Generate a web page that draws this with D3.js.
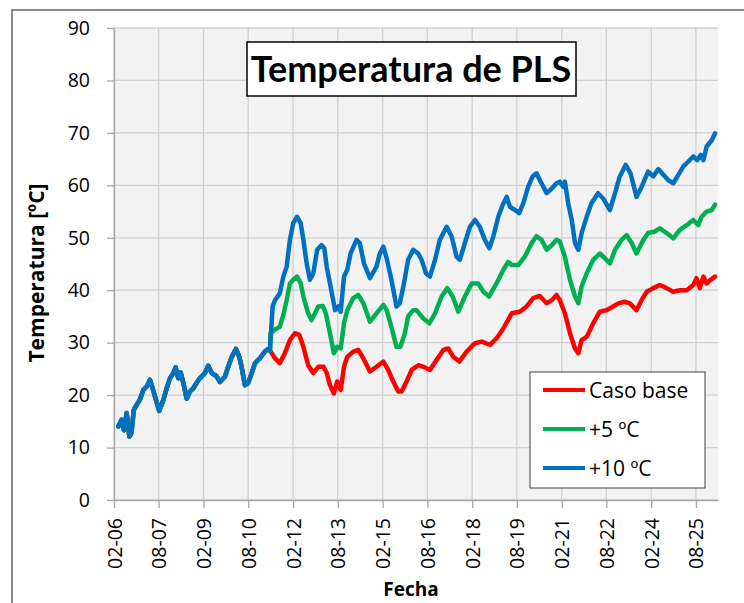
<!DOCTYPE html>
<html>
<head>
<meta charset="utf-8">
<script src="https://d3js.org/d3.v7.min.js"></script>
<style>
  body { margin: 0; background: #fff; }
  text { font-family: "Open Sans", sans-serif; }
</style>
</head>
<body>
<svg id="chart" width="744" height="603"></svg>
<script>
// common history before the scenarios split (decimal year, ºC)
const historico = [
  [2006.23,14.0],[2006.34,15.3],[2006.42,13.3],[2006.51,16.6],[2006.60,12.1],[2006.67,12.8],
  [2006.75,17.2],[2006.84,18.1],[2006.95,19.1],[2007.07,21.0],[2007.18,21.6],[2007.29,22.9],
  [2007.38,21.3],[2007.46,19.7],[2007.60,17.0],[2007.74,19.1],[2007.85,21.3],[2007.96,23.2],
  [2008.07,24.2],[2008.15,25.3],[2008.24,23.2],[2008.32,24.3],[2008.41,22.3],[2008.52,19.3],
  [2008.63,20.7],[2008.74,21.3],[2008.85,22.3],[2008.96,23.2],[2009.13,24.2],[2009.24,25.6],
  [2009.36,24.2],[2009.52,23.6],[2009.63,22.5],[2009.80,23.5],[2009.91,25.4],[2010.03,27.3],
  [2010.17,28.8],[2010.28,27.3],[2010.36,25.4],[2010.47,21.9],[2010.58,22.3],[2010.70,24.2],
  [2010.81,26.1],[2010.97,27.0],[2011.14,28.3],[2011.25,28.8],[2011.31,28.5]
];

const casoBase = [
  [2011.48,27.0],[2011.64,26.1],[2011.81,28.0],[2011.98,30.5],[2012.15,31.8],[2012.29,31.5],
  [2012.43,29.2],[2012.59,25.7],[2012.76,24.2],[2012.93,25.4],[2013.10,25.4],[2013.21,24.2],
  [2013.32,21.9],[2013.45,20.3],[2013.56,22.6],[2013.68,21.0],[2013.79,25.4],[2013.90,27.3],
  [2014.10,28.3],[2014.27,28.6],[2014.44,27.0],[2014.66,24.5],[2014.88,25.4],[2015.11,26.4],
  [2015.27,24.8],[2015.44,22.6],[2015.61,20.7],[2015.72,20.7],[2015.89,22.6],[2016.06,24.8],
  [2016.28,25.7],[2016.45,25.4],[2016.67,24.8],[2016.89,26.7],[2017.12,28.6],[2017.28,28.9],
  [2017.45,27.3],[2017.65,26.4],[2017.90,28.3],[2018.18,29.9],[2018.40,30.2],[2018.68,29.6],
  [2018.90,30.8],[2019.13,32.7],[2019.41,35.6],[2019.68,35.9],[2019.91,36.9],[2020.13,38.5],
  [2020.35,38.9],[2020.58,37.5],[2020.75,38.1],[2020.91,39.1],[2021.02,38.1],[2021.19,35.6],
  [2021.36,31.8],[2021.53,28.9],[2021.64,28.0],[2021.75,30.5],[2021.92,31.1],[2022.14,33.7],
  [2022.36,35.9],[2022.59,36.2],[2022.81,36.9],[2022.98,37.5],[2023.20,37.8],[2023.37,37.5],
  [2023.59,36.2],[2023.76,38.1],[2023.93,39.7],[2024.15,40.4],[2024.37,41.0],[2024.60,40.4],
  [2024.82,39.7],[2025.04,40.0],[2025.27,40.0],[2025.49,41.0],[2025.60,42.3],[2025.71,40.4],
  [2025.83,42.6],[2025.94,41.3],[2026.05,41.9],[2026.22,42.6]
];

const mas5 = [
  [2011.33,31.8],[2011.53,32.7],[2011.64,33.0],[2011.76,35.3],[2011.87,38.1],[2011.98,41.3],
  [2012.09,42.0],[2012.22,42.6],[2012.34,41.3],[2012.43,38.8],[2012.59,35.6],[2012.70,34.3],
  [2012.82,35.6],[2012.93,36.9],[2013.08,37.0],[2013.18,35.6],[2013.32,31.8],[2013.45,28.0],
  [2013.56,29.2],[2013.68,28.9],[2013.79,33.7],[2013.90,36.2],[2014.10,38.5],[2014.27,39.1],
  [2014.44,37.5],[2014.66,34.0],[2014.88,35.6],[2015.11,37.2],[2015.22,36.2],[2015.38,33.0],
  [2015.55,29.2],[2015.68,29.2],[2015.83,31.8],[2015.94,35.0],[2016.11,36.2],[2016.22,36.2],
  [2016.45,34.6],[2016.65,33.7],[2016.84,35.6],[2017.06,38.8],[2017.25,40.4],[2017.43,38.8],
  [2017.62,35.9],[2017.84,38.8],[2018.07,41.3],[2018.29,41.3],[2018.46,39.7],[2018.65,38.8],
  [2018.90,41.3],[2019.13,43.9],[2019.29,45.4],[2019.41,44.8],[2019.63,44.8],[2019.85,46.4],
  [2020.08,49.0],[2020.24,50.3],[2020.41,49.6],[2020.58,47.7],[2020.75,48.6],[2020.91,49.6],
  [2021.02,49.3],[2021.19,46.4],[2021.36,42.0],[2021.53,38.8],[2021.64,37.5],[2021.75,40.7],
  [2021.92,43.2],[2022.14,45.8],[2022.36,47.0],[2022.53,46.1],[2022.70,45.1],[2022.87,47.7],
  [2023.09,49.6],[2023.26,50.5],[2023.43,49.0],[2023.59,47.0],[2023.82,49.6],[2023.98,50.9],
  [2024.21,51.2],[2024.37,51.8],[2024.60,50.9],[2024.82,49.9],[2025.04,51.5],[2025.27,52.4],
  [2025.49,53.4],[2025.66,52.4],[2025.77,54.0],[2025.94,55.0],[2026.11,55.3],[2026.22,56.3]
];

const mas10 = [
  [2011.40,36.9],[2011.48,38.1],[2011.64,39.4],[2011.76,42.6],[2011.87,44.5],[2011.98,49.6],
  [2012.09,52.8],[2012.22,54.0],[2012.34,52.8],[2012.43,49.6],[2012.54,45.1],[2012.65,42.0],
  [2012.76,43.2],[2012.89,47.7],[2013.04,48.6],[2013.13,48.0],[2013.21,44.5],[2013.34,40.7],
  [2013.49,36.2],[2013.60,36.9],[2013.68,35.9],[2013.79,42.6],[2013.90,43.9],[2014.01,47.0],
  [2014.21,49.6],[2014.32,49.0],[2014.46,45.1],[2014.66,42.3],[2014.88,44.5],[2014.99,47.0],
  [2015.11,48.3],[2015.22,46.1],[2015.38,42.0],[2015.55,36.9],[2015.66,37.5],[2015.78,40.7],
  [2015.94,45.8],[2016.11,47.7],[2016.28,47.0],[2016.39,45.8],[2016.54,43.2],[2016.67,42.6],
  [2016.84,45.8],[2017.00,49.6],[2017.23,52.1],[2017.40,50.2],[2017.56,46.4],[2017.67,45.8],
  [2017.84,49.0],[2018.01,52.1],[2018.18,53.4],[2018.34,52.1],[2018.51,49.6],[2018.66,48.0],
  [2018.79,50.2],[2018.96,54.0],[2019.11,56.3],[2019.24,57.8],[2019.35,55.9],[2019.52,55.3],
  [2019.66,54.7],[2019.80,56.6],[2019.96,59.7],[2020.11,61.7],[2020.24,62.3],[2020.38,60.7],
  [2020.58,58.5],[2020.75,59.4],[2020.91,60.4],[2021.02,60.7],[2021.14,59.7],[2021.19,60.7],
  [2021.30,56.6],[2021.42,53.4],[2021.53,49.0],[2021.64,47.7],[2021.75,50.9],[2021.92,54.0],
  [2022.08,56.6],[2022.30,58.5],[2022.47,57.5],[2022.70,55.3],[2022.87,58.5],[2023.03,61.7],
  [2023.23,63.9],[2023.39,62.3],[2023.59,57.8],[2023.76,59.7],[2023.98,62.6],[2024.15,61.7],
  [2024.32,63.1],[2024.49,62.0],[2024.65,61.0],[2024.82,60.4],[2024.99,62.0],[2025.16,63.6],
  [2025.32,64.5],[2025.49,65.5],[2025.62,64.8],[2025.74,65.8],[2025.83,64.8],[2025.94,67.4],
  [2026.11,68.6],[2026.22,69.9]
];

const seriesNames = ["Caso base", "+5 ºC", "+10 ºC"];
const seriesColors = ["#ff0000", "#00b050", "#0070c0"];
const xTickLabels = ["02-06","08-07","02-09","08-10","02-12","08-13","02-15",
                     "08-16","02-18","08-19","02-21","08-22","02-24","08-25"];
const yTicks = [0,10,20,30,40,50,60,70,80,90];

// decimal year -> Date
function fromYear(y) {
  const yr = Math.floor(y);
  const a = new Date(yr, 0, 1), b = new Date(yr + 1, 0, 1);
  return new Date(+a + (y - yr) * (b - a));
}

const margin = { top: 28, right: 26, bottom: 103, left: 114 };
const width = 744, height = 603;
const innerWidth = width - margin.left - margin.right;
const innerHeight = height - margin.top - margin.bottom;

const svg = d3.select("#chart");

// outer chart frame (runs off the right and bottom edges like the source)
svg.append("path")
  .attr("d", `M12,${height} V10 H${width}`)
  .attr("fill", "none")
  .attr("stroke", "#8c8c8c")
  .attr("stroke-width", 2);

const g = svg.append("g")
  .attr("transform", `translate(${margin.left},${margin.top})`);

const parseTick = d3.timeParse("%m-%y");
const tickDates = xTickLabels.map(parseTick);

const xScale = d3.scaleTime()
  .domain([fromYear(2006.085), fromYear(2026.32)])
  .range([0, innerWidth]);
const yScale = d3.scaleLinear()
  .domain([0, 90])
  .range([innerHeight, 0]);

// plot background
g.append("rect")
  .attr("width", innerWidth).attr("height", innerHeight)
  .attr("fill", "#f2f2f2");

// gridlines
g.selectAll(".hgrid").data(yTicks).enter().append("line")
  .attr("x1", 0).attr("x2", innerWidth)
  .attr("y1", d => yScale(d)).attr("y2", d => yScale(d))
  .attr("stroke", "#d0d0d0").attr("stroke-width", 1.3);
g.selectAll(".vgrid").data(tickDates).enter().append("line")
  .attr("x1", d => xScale(d)).attr("x2", d => xScale(d))
  .attr("y1", 0).attr("y2", innerHeight)
  .attr("stroke", "#d0d0d0").attr("stroke-width", 1.3);

// axes
const xAxis = d3.axisBottom(xScale)
  .tickValues(tickDates)
  .tickFormat((d, i) => xTickLabels[i])
  .tickSize(8)
  .tickSizeOuter(0);
const gx = g.append("g")
  .attr("transform", `translate(0,${innerHeight})`)
  .call(xAxis);
gx.selectAll("text")
  .attr("transform", "rotate(-90)")
  .attr("x", -18)
  .attr("y", 0)
  .attr("dy", "0.36em")
  .style("text-anchor", "end")
  .style("font-family", "'Open Sans', sans-serif")
  .style("font-size", "19.5px")
  .attr("fill", "#000");

const yAxis = d3.axisLeft(yScale)
  .tickValues(yTicks)
  .tickSize(7)
  .tickPadding(17)
  .tickSizeOuter(0);
const gy = g.append("g").call(yAxis);
gy.selectAll("text")
  .style("font-family", "'Open Sans', sans-serif")
  .style("font-size", "19.5px")
  .attr("fill", "#000");

g.selectAll(".domain, .tick line")
  .attr("stroke", "#a6a6a6")
  .attr("stroke-width", 1.3);

// lines
const line = d3.line()
  .x(d => xScale(fromYear(d[0])))
  .y(d => yScale(d[1]));

const allSeries = [casoBase, mas5, mas10];
allSeries.forEach((s, i) => {
  g.append("path")
    .datum(historico.concat(s))
    .attr("fill", "none")
    .attr("stroke", seriesColors[i])
    .attr("stroke-width", 4.5)
    .attr("stroke-linejoin", "round")
    .attr("stroke-linecap", "round")
    .attr("d", line);
});

// title box
svg.append("rect")
  .attr("x", 247).attr("y", 42)
  .attr("width", 329).attr("height", 54)
  .attr("fill", "#fff")
  .attr("stroke", "#000")
  .attr("stroke-width", 1.5);
svg.append("text")
  .attr("x", 411).attr("y", 82)
  .attr("text-anchor", "middle")
  .style("font-family", "Lato, sans-serif")
  .style("font-size", "36px")
  .style("font-weight", "bold")
  .text("Temperatura de PLS");

// axis titles
svg.append("text")
  .attr("x", 411).attr("y", 596)
  .attr("text-anchor", "middle")
  .style("font-size", "19px")
  .style("font-weight", "bold")
  .text("Fecha");
svg.append("text")
  .attr("transform", "translate(44,273) rotate(-90)")
  .attr("text-anchor", "middle")
  .style("font-size", "21px")
  .style("font-weight", "bold")
  .text("Temperatura [ºC]");

// legend
const legend = svg.append("g").attr("transform", "translate(530,372)");
legend.append("rect")
  .attr("width", 175).attr("height", 116)
  .attr("fill", "#fff")
  .attr("stroke", "#404040")
  .attr("stroke-width", 1);
seriesNames.forEach((name, i) => {
  const y = 18 + i * 39;
  legend.append("line")
    .attr("x1", 13).attr("x2", 55)
    .attr("y1", y).attr("y2", y)
    .attr("stroke", seriesColors[i])
    .attr("stroke-width", 4);
  legend.append("text")
    .attr("x", 59).attr("y", y)
    .attr("dy", "0.36em")
    .style("font-size", "21px")
    .text(name);
});
</script>
</body>
</html>
